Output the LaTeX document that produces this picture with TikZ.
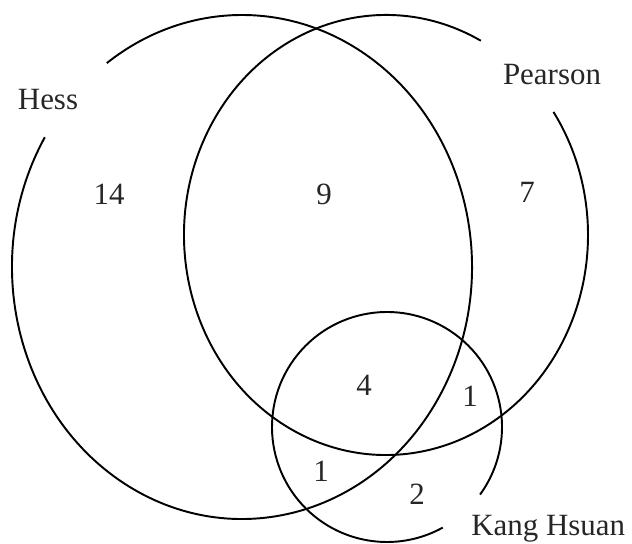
\documentclass[tikz,border=0pt]{standalone}
\usepackage{fontspec}
\setmainfont{Liberation Serif}
\begin{document}
\begin{tikzpicture} [x = 0.2mm, y = 0.2mm, set/.style = {line width = 1.1pt}, lbl/.style = {text = black!85, font = \fontsize{17.6}{20}\selectfont}]
\useasboundingbox (0,0) rectangle (632,544);
\coordinate (hess) at (242,277);
\coordinate (pearson) at (386,309);
\coordinate (kang) at (387,117);
% the three sets, each with a gap for its name
\draw [set] ([shift = {(149:230 and 252)}] hess) arc [start angle = 149, end angle = 486, x radius = 230, y radius = 252];
\draw [set] ([shift = {(62:202 and 220)}] pearson) arc [start angle = 62, end angle = 394, x radius = 202, y radius = 220];
\draw [set] ([shift = {(-36:115)}] kang) arc [start angle = -36, end angle = 299, radius = 115];
\node [lbl] (hessname) at (48,444) {Hess};
\node [lbl] (pearsonname) at (552,469) {Pearson};
\node [lbl, anchor = base west, inner sep = 0pt] (kangname) at (471,8) {Kang Hsuan};
% counts
\node [lbl] (h) at (109,350) {14};
\node [lbl] (hp) at (324,350) {9};
\node [lbl] (p) at (527,352) {7};
\node [lbl] (hpk) at (364,159) {4};
\node [lbl] (pk) at (470,148) {1};
\node [lbl] (hk) at (321,73) {1};
\node [lbl] (k) at (417,50) {2};
\end{tikzpicture}
\end{document}
